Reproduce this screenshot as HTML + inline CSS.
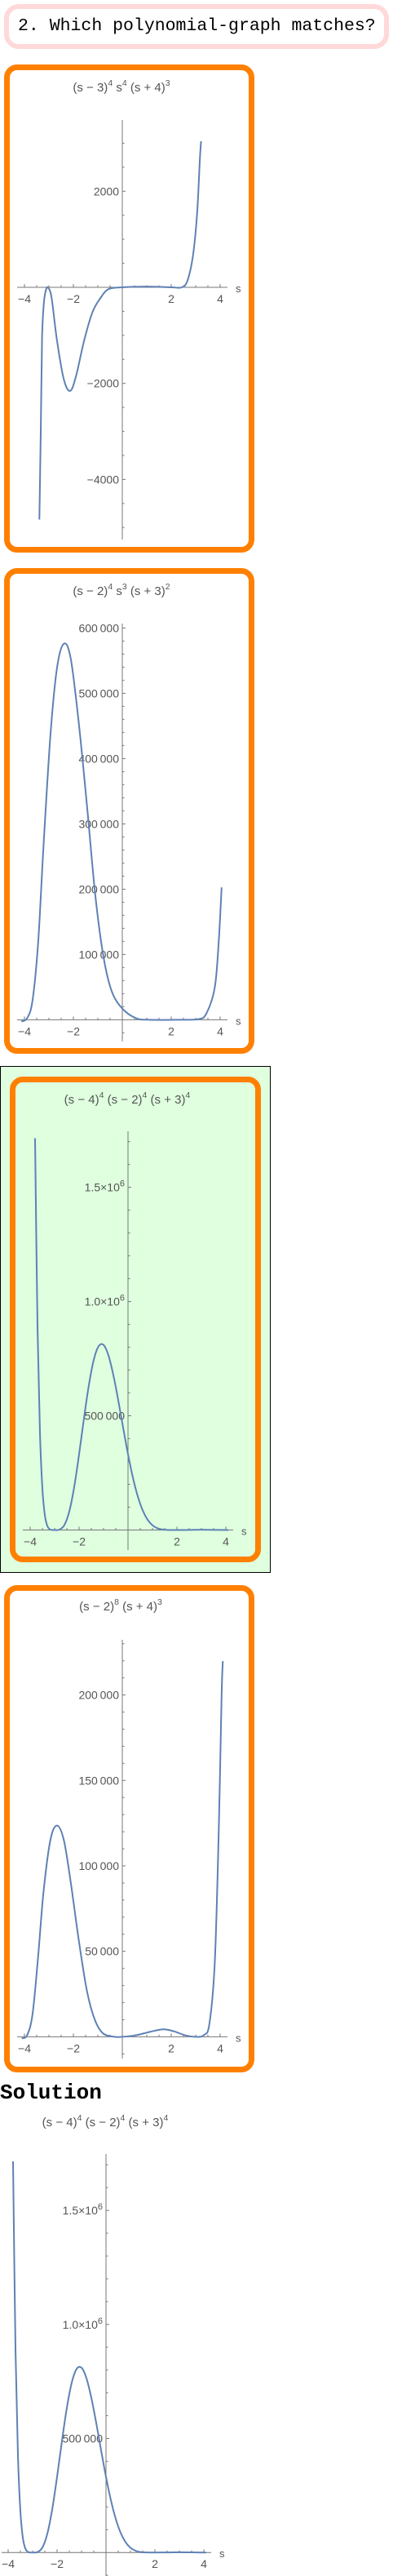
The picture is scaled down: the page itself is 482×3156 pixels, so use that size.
<!DOCTYPE html>
<html><head><meta charset="utf-8">
<style>
html,body{margin:0;padding:0;background:#fff;}
body{width:482px;height:3156px;position:relative;overflow:hidden;font-family:"Liberation Sans",sans-serif;}
.box{position:absolute;box-sizing:border-box;}
.hdr{left:5px;top:5px;width:472px;height:55px;border:6px solid #ffd9d9;border-radius:18px;font-family:"Liberation Mono",monospace;font-size:21.5px;line-height:43px;padding-left:11px;color:#000;white-space:nowrap;overflow:hidden;}
.orange{left:5px;width:307px;border:7px solid #ff8000;border-radius:16px;background:#fff;}
.title{position:absolute;transform:translate(-50%,-50%);font-size:15px;color:#555;white-space:nowrap;line-height:18px;}
.title sup{font-size:10.5px;vertical-align:7px;line-height:0;}
.sol{position:absolute;left:0;top:2550px;font-family:"Liberation Mono",monospace;font-weight:bold;font-size:26px;line-height:28px;}
svg{position:absolute;left:0;top:0;}
</style></head>
<body>
<div class="box hdr">2. Which polynomial-graph matches?</div>

<div class="box orange" style="top:79px;height:598px;"></div>
<div class="box orange" style="top:696px;height:595px;"></div>
<div class="box" style="left:0;top:1306px;width:332px;height:621px;border:1px solid #000;background:#dfffdf;"></div>
<div class="box orange" style="left:12px;top:1319px;width:308px;height:595px;background:#dfffdf;"></div>
<div class="box orange" style="top:1942px;height:597px;"></div>

<div class="title" style="left:149px;top:108px;">(s − 3)<sup>4</sup> s<sup>4</sup> (s + 4)<sup>3</sup></div>
<div class="title" style="left:149px;top:725px;">(s − 2)<sup>4</sup> s<sup>3</sup> (s + 3)<sup>2</sup></div>
<div class="title" style="left:156px;top:1348px;">(s − 4)<sup>4</sup> (s − 2)<sup>4</sup> (s + 3)<sup>4</sup></div>
<div class="title" style="left:148px;top:1969px;">(s − 2)<sup>8</sup> (s + 4)<sup>3</sup></div>
<div class="sol">Solution</div>
<div class="title" style="left:129px;top:2601px;">(s − 4)<sup>4</sup> (s − 2)<sup>4</sup> (s + 3)<sup>4</sup></div>

<svg id="plots" width="482" height="3156"></svg>

<script>
// ---- data ----
const xTickLabels = [-4, -2, 2, 4];

const p1S = [-3.39,-3.33,-3.28,-3.2,-3.11,-3.02,-2.89,-2.67,-2.39,-2.13,-1.89,-1.56,-1.22,-0.89,-0.56,0,1,2,2.44,2.67,2.89,3.06,3.17,3.22];
const p1V = [-4834,-2878,-1033,-295,-37,-15,-221,-1107,-1919,-2155,-1845,-1107,-517,-221,-37,0,15,0,0,148,664,1550,2657,3040];
const p1YTicks = [-4000, -2000, 2000];

const p2S = [-4.13,-3.89,-3.67,-3.44,-3.22,-2.94,-2.67,-2.39,-2.11,-1.78,-1.44,-1.11,-0.78,-0.44,0,0.56,1.11,2.22,3.11,3.44,3.78,3.94,4.06];
const p2V = [-2470,2470,29660,118600,266900,435000,538800,575900,553600,454800,326300,192800,98860,44490,17300,2470,0,0,990,9890,49430,118600,202700];
const p2YTicks = [100000,200000,300000,400000,500000,600000];

const p3S = [-3.8,-3.7,-3.6,-3.5,-3.4,-3.3,-3.2,-3.1,-3,-2.8,-2.6,-2.4,-2.2,-2,-1.8,-1.6,-1.4,-1.2,-1,-0.8,-0.6,-0.4,-0.2,0,0.2,0.4,0.6,0.8,1,1.2,1.4,1.6,1.8,2,2.5,3,3.5,4,4.1];
const p3V = [1715000,890900,425400,180960,65260,18150,3146,172,0,1816,21750,81520,188300,331776,489300,634400,745000,804800,810000,764400,678600,568500,448000,331776,229600,147100,86250,45330,20736,7838,2218,381,20,0,289,1296,565,0,5];
const p3YTicks = [500000, 1000000, 1500000];

const p4S = [-4.11,-3.89,-3.67,-3.44,-3.22,-2.94,-2.67,-2.39,-2.11,-1.78,-1.44,-1.11,-0.78,-0.33,0,0.56,1.11,1.67,2.11,2.56,3.0,3.33,3.56,3.78,3.94,4.06,4.11];
const p4V = [-943,943,13210,47170,84910,115100,123600,115100,90570,56600,26420,9434,1887,0,0,943,2830,4340,3208,943,0,943,7547,43400,118900,200000,219800];
const p4YTicks = [50000,100000,150000,200000];

// ---- drawing ----
const NS = 'http://www.w3.org/2000/svg';
const svg = document.getElementById('plots');
function mk(tag, attrs, parent){
  const e = document.createElementNS(NS, tag);
  for (const k in attrs) e.setAttribute(k, attrs[k]);
  (parent||svg).appendChild(e);
  return e;
}
function fmt(v){
  if (v >= 1000000) return null;
  const neg = v < 0; let a = Math.abs(v);
  let s = String(a);
  if (a >= 10000) s = s.slice(0, s.length-3) + '\u2009' + s.slice(-3);
  return (neg ? '\u2212' : '') + s;
}
function drawPlot(name, cfg, S, V, yTicks){
  const g = mk('g', {});
  
  
  const X = s => cfg.ox + s * 30;
  const Y = v => cfg.oy - v * cfg.sy;
  const ax = '#777';
  const xa = mk('line', {x1:cfg.xL, x2:cfg.xR, y1:cfg.oy, y2:cfg.oy, stroke:ax, 'stroke-width':1}, g);
  
  
  const ya = mk('line', {x1:cfg.ox, x2:cfg.ox, y1:cfg.yTop, y2:cfg.yBot, stroke:ax, 'stroke-width':1}, g);
  
  
  for (let s = -4; s <= 4.001; s += 0.5){
    if (Math.abs(s) < 1e-9) continue;
    const major = Math.abs(s - Math.round(s/2)*2) < 1e-9;
    mk('line', {x1:X(s), x2:X(s), y1:cfg.oy, y2:cfg.oy - (major?4:2.5), stroke:ax, 'stroke-width':1}, g);
  }
  xTickLabels.forEach(s => {
    const t = mk('text', {x:X(s), y:cfg.oy + 19, 'text-anchor':'middle', 'font-size':14, fill:'#555', 'font-family':'Liberation Sans, sans-serif'}, g);
    t.textContent = (s < 0 ? '\u2212' : '') + Math.abs(s);
    
    
  });
  const sl = mk('text', {x:cfg.xR + 10, y:cfg.oy + 6, 'font-size':13, fill:'#555', 'font-family':'Liberation Sans, sans-serif'}, g);
  sl.textContent = 's';
  
  
  const lo = Math.ceil((cfg.oy - cfg.yBot)/cfg.sy/cfg.minor), hi = Math.floor((cfg.oy - cfg.yTop)/cfg.sy/cfg.minor);
  for (let k = lo; k <= hi; k++){
    if (k === 0) continue;
    const v = k * cfg.minor;
    const major = Math.abs(v / cfg.major - Math.round(v / cfg.major)) < 1e-9;
    mk('line', {x1:cfg.ox, x2:cfg.ox + (major?4:2.5), y1:Y(v), y2:Y(v), stroke:ax, 'stroke-width':1}, g);
  }
  yTicks.forEach(v => {
    const t = mk('text', {x:cfg.ox - 4, y:Y(v) + 5, 'text-anchor':'end', 'font-size':14, fill:'#555', 'font-family':'Liberation Sans, sans-serif'}, g);
    const f = fmt(v);
    if (f !== null) t.textContent = f;
    else {
      const m = (v/1e6).toFixed(1);
      const a = mk('tspan', {}, t); a.textContent = m + '\u00d710';
      const b = mk('tspan', {dy:-6, 'font-size':11}, t); b.textContent = '6';
    }
    
    
  });
  const P = S.map((s,i) => [X(s), Y(V[i])]);
  let d = 'M' + P[0][0].toFixed(2) + ',' + P[0][1].toFixed(2);
  for (let i = 0; i < P.length - 1; i++){
    const p0 = P[Math.max(0,i-1)], p1 = P[i], p2 = P[i+1], p3 = P[Math.min(P.length-1,i+2)];
    const c1 = [p1[0] + (p2[0]-p0[0])/6, p1[1] + (p2[1]-p0[1])/6];
    const c2 = [p2[0] - (p3[0]-p1[0])/6, p2[1] - (p3[1]-p1[1])/6];
    d += ' C' + c1[0].toFixed(2)+','+c1[1].toFixed(2)+' '+c2[0].toFixed(2)+','+c2[1].toFixed(2)+' '+p2[0].toFixed(2)+','+p2[1].toFixed(2);
  }
  const c = mk('path', {d:d, fill:'none', stroke:'#5e81b5', 'stroke-width':2, 'stroke-linejoin':'round'}, g);
  
  
}

drawPlot('option-1-chart', {ox:150, oy:352, sy:117.7/2000, yTop:147, yBot:661, xL:21, xR:279, minor:500, major:2000}, p1S, p1V, p1YTicks);
drawPlot('option-2-chart', {ox:150, oy:1249.4, sy:80.0/100000, yTop:764, yBot:1276, xL:21, xR:279, minor:20000, major:100000}, p2S, p2V, p2YTicks);
drawPlot('option-3-chart', {ox:157, oy:1874.5, sy:139.95/500000, yTop:1386, yBot:1899, xL:28, xR:286, minor:100000, major:500000}, p3S, p3V, p3YTicks);
drawPlot('option-4-chart', {ox:150, oy:2495.4, sy:104.7/50000, yTop:2009, yBot:2522, xL:21, xR:279, minor:10000, major:50000}, p4S, p4V, p4YTicks);
drawPlot('solution-chart', {ox:130, oy:3127.2, sy:139.7/500000, yTop:2639, yBot:3156, xL:2, xR:259, minor:100000, major:500000}, p3S, p3V, p3YTicks);
</script>
</body></html>
